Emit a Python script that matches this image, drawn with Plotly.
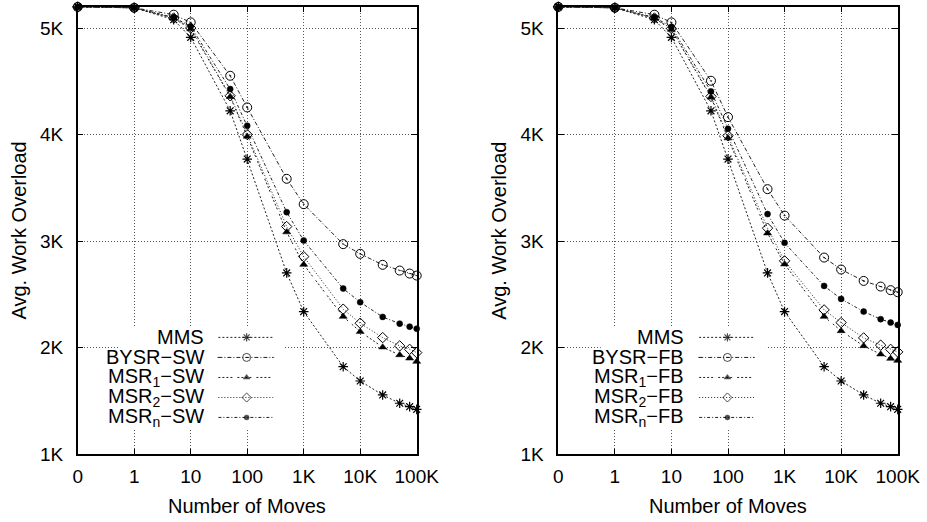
import numpy as np
import plotly.graph_objects as go

# ---- data -------------------------------------------------------------
moves = [0, 1, 5, 10, 50, 100, 500, 1000, 5000, 10000, 25000, 50000, 75000, 100000]

mms = [5198, 5190, 5078, 4912, 4223, 3770, 2702, 2339, 1822, 1688, 1557, 1479, 1447, 1422]

bysr_sw = [5198, 5190, 5125, 5053, 4552, 4255, 3585, 3347, 2972, 2881, 2778, 2724, 2696, 2677]
msr1_sw = [5198, 5190, 5092, 4990, 4355, 3983, 3085, 2780, 2292, 2151, 2005, 1932, 1901, 1870]
msr2_sw = [5198, 5190, 5094, 5000, 4364, 4000, 3137, 2855, 2362, 2230, 2095, 2017, 1985, 1954]
msrn_sw = [5198, 5190, 5100, 5015, 4427, 4083, 3272, 3006, 2555, 2427, 2289, 2226, 2198, 2179]

bysr_fb = [5198, 5190, 5125, 5053, 4505, 4164, 3488, 3240, 2846, 2734, 2627, 2574, 2540, 2521]
msr1_fb = [5198, 5190, 5092, 4985, 4350, 3967, 3075, 2784, 2292, 2158, 2017, 1939, 1898, 1879]
msr2_fb = [5198, 5190, 5094, 4995, 4358, 3989, 3122, 2815, 2355, 2236, 2092, 2024, 1985, 1961]
msrn_fb = [5198, 5190, 5100, 5010, 4405, 4054, 3254, 2984, 2580, 2458, 2339, 2268, 2236, 2214]

x_tick_values = [0, 1, 10, 100, 1000, 10000, 100000]
x_tick_labels = ["0", "1", "10", "100", "1K", "10K", "100K"]
y_tick_values = [1000, 2000, 3000, 4000, 5000]
y_tick_labels = ["1K", "2K", "3K", "4K", "5K"]

labels_sw = ["MMS", "BYSR\u2212SW", "MSR<sub>1</sub>\u2212SW", "MSR<sub>2</sub>\u2212SW", "MSR<sub>n</sub>\u2212SW"]
labels_fb = ["MMS", "BYSR\u2212FB", "MSR<sub>1</sub>\u2212FB", "MSR<sub>2</sub>\u2212FB", "MSR<sub>n</sub>\u2212FB"]


def pos(v):
    """Log-style position with 0 placed one decade below 1."""
    return 0.0 if v == 0 else float(np.log10(v)) + 1.0


xp = [pos(v) for v in moves]
x_tick_pos = [pos(v) for v in x_tick_values]

# ---- styles -----------------------------------------------------------
LINE = "#222222"
FONT = "Liberation Sans, Arial, Helvetica, sans-serif"
styles = [
    dict(symbol="asterisk-open", size=8, lw=1.2, dash="2px,2px"),
    dict(symbol="circle-open-dot", size=9, lw=1, dash="4px,2px,1px,2px"),
    dict(symbol="triangle-up", size=7, lw=0.5, dash="2px,2px,2px,2px,2px,2px,2px,5px"),
    dict(symbol="diamond-open", size=8, lw=1, dash="1px,2px"),
    dict(symbol="circle", size=6, lw=0.5, dash="3px,2px,1px,2px"),
]

fig = go.Figure()

panels = [
    ("x", "y", [mms, bysr_sw, msr1_sw, msr2_sw, msrn_sw], labels_sw),
    ("x2", "y2", [mms, bysr_fb, msr1_fb, msr2_fb, msrn_fb], labels_fb),
]

# legend block placement (axis units)
leg_text_x = 2.265
leg_line_x = [2.49, 2.99, 3.46]
leg_rows = [2097, 1909, 1721, 1533, 1346]
leg_box = dict(x0=0.75, x1=3.67, y0=1228, y1=2205)

annotations = []
shapes = []

for xa, ya, series, labels in panels:
    for s, st, lab in zip(series, styles, labels):
        fig.add_trace(go.Scatter(
            x=xp, y=s, xaxis=xa, yaxis=ya, mode="lines+markers",
            line=dict(color=LINE, width=1, dash=st["dash"]),
            marker=dict(symbol=st["symbol"], size=st["size"], color="#000",
                        line=dict(color="#000", width=st["lw"])),
            cliponaxis=False, showlegend=False, name=lab,
        ))
    # white legend backdrop over the grid
    shapes.append(dict(type="rect", xref=xa, yref=ya, layer="between",
                       fillcolor="white", line=dict(width=0), **leg_box))
    for row_y, st, lab in zip(leg_rows, styles, labels):
        fig.add_trace(go.Scatter(
            x=leg_line_x, y=[row_y] * 3, xaxis=xa, yaxis=ya, mode="lines+markers",
            line=dict(color=LINE, width=1, dash=st["dash"]),
            marker=dict(symbol=st["symbol"], size=[0, st["size"] - 1, 0], color="#000",
                        line=dict(color="#000", width=st["lw"])),
            showlegend=False, hoverinfo="skip",
        ))
        annotations.append(dict(x=leg_text_x, y=row_y, xref=xa, yref=ya, text=lab,
                                showarrow=False, xanchor="right", yanchor="middle",
                                font=dict(family=FONT, size=20, color="#000")))

W, H = 927, 522
ydom = [(H - 454.3) / H, (H - 6.7) / H]
xdom1 = [77.7 / W, 416.7 / W]
xdom2 = [558.3 / W, 897.7 / W]

common_x = dict(range=[0, 6], tickvals=x_tick_pos, ticktext=x_tick_labels,
                showgrid=True, gridcolor="#555", griddash="1px,2px", gridwidth=1,
                showline=True, linecolor="#000", linewidth=1.5, mirror="ticks",
                ticks="inside", ticklen=6, tickcolor="#000", zeroline=False,
                automargin=False, ticklabelstandoff=4,
                tickfont=dict(family=FONT, size=19, color="#000"))
common_y = dict(range=[1000, 5200], tickvals=y_tick_values, ticktext=y_tick_labels,
                showgrid=True, gridcolor="#555", griddash="1px,2px", gridwidth=1,
                showline=True, linecolor="#000", linewidth=1.5, mirror="ticks",
                ticks="inside", ticklen=6, tickcolor="#000", zeroline=False,
                automargin=False, ticklabelstandoff=9,
                tickfont=dict(family=FONT, size=19, color="#000"))

title_font = dict(family=FONT, size=20, color="#000")
for cx in [(xdom1[0] + xdom1[1]) / 2, (xdom2[0] + xdom2[1]) / 2]:
    annotations.append(dict(x=cx, y=(H - 505.5) / H, xref="paper", yref="paper",
                            text="Number of Moves", showarrow=False,
                            xanchor="center", yanchor="middle", font=title_font))
for cx in [18 / W, 498.3 / W]:
    annotations.append(dict(x=cx, y=(ydom[0] + ydom[1]) / 2, xref="paper", yref="paper",
                            text="Avg. Work Overload", showarrow=False, textangle=-90,
                            xanchor="center", yanchor="middle", font=title_font))

fig.update_layout(
    template="none",
    width=W, height=H, autosize=False,
    margin=dict(l=0, r=0, t=0, b=0, pad=0, autoexpand=False),
    paper_bgcolor="white", plot_bgcolor="white",
    xaxis=dict(domain=xdom1, anchor="y", **common_x),
    yaxis=dict(domain=ydom, anchor="x", **common_y),
    xaxis2=dict(domain=xdom2, anchor="y2", **common_x),
    yaxis2=dict(domain=ydom, anchor="x2", **common_y),
    annotations=annotations,
    shapes=shapes,
    showlegend=False,
)

fig.write_html("out.html")
